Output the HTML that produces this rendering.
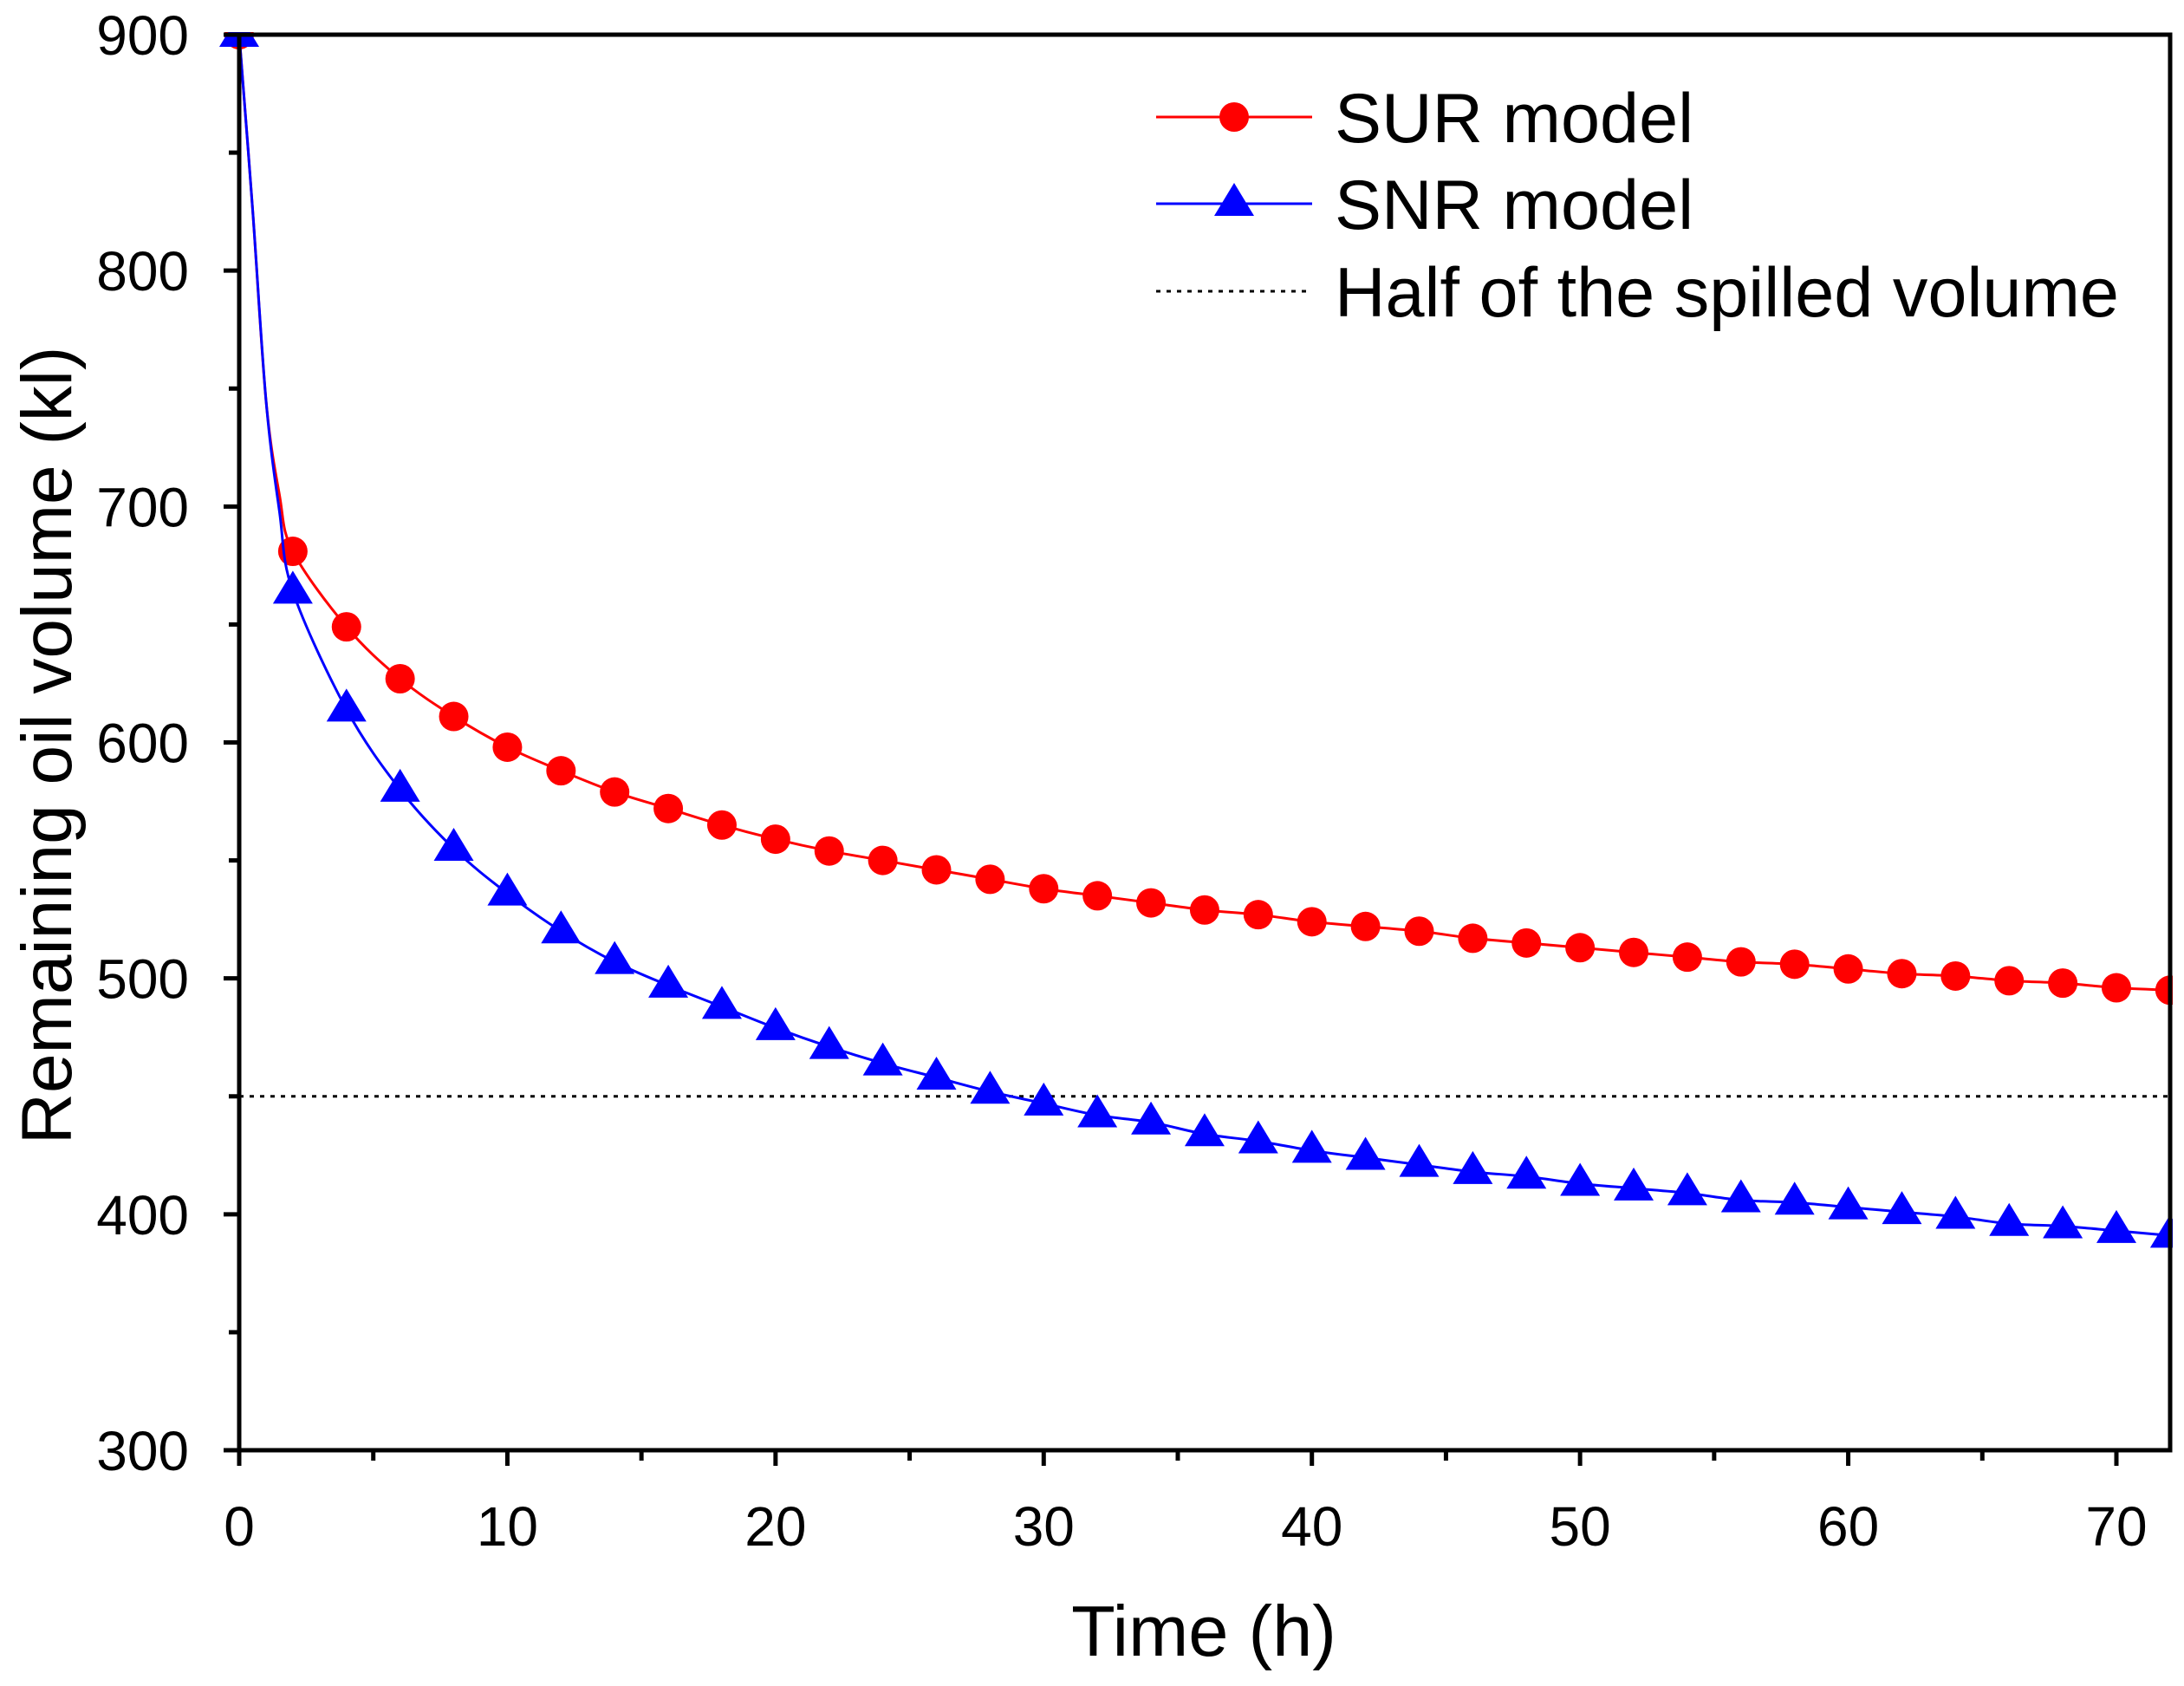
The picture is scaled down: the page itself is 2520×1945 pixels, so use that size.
<!DOCTYPE html>
<html><head><meta charset="utf-8"><style>html,body{margin:0;padding:0;background:#fff}svg{display:block}text{font-family:"Liberation Sans",Arial,sans-serif}</style></head>
<body>
<svg id="chart" width="2520" height="1945" viewBox="0 0 2520 1945" xmlns="http://www.w3.org/2000/svg">
<rect width="2520" height="1945" fill="#fff"/>
<g id="plot"></g>
</svg>
<script>
const times = [0,2,4,6,8,10,12,14,16,18,20,22,24,26,28,30,32,34,36,38,40,42,44,46,48,50,52,54,56,58,60,62,64,66,68,70,72];
const surValues = [900,681,649,627,611,598,588,579,572,565,559,554,550,546,542,538,535,532,529,527,524,522,520,517,515,513,511,509,507,506,504,502,501,499,498,496,495];
const snrValues = [900,664,614,580,555,536,520,507,497,488,479,471,464,458,452,447,442,439,434,431,427,424,421,418,416,413,411,409,406,405,403,401,399,396,395,393,391];
const earlyTimes = [0.5,1,1.5];
const surEarly = [826,745,705];
const snrEarly = [826,745,698];
const halfVolume = [450];
const xTicks = [0,10,20,30,40,50,60,70];
const yTicks = [300,400,500,600,700,800,900];

const X0=276, XS=(2442-276)/70, Y0=1673, YS=1633/600;
const sx = t => X0 + t*XS;
const sy = v => Y0 - (v-300)*YS;
const NS="http://www.w3.org/2000/svg";
const g=document.getElementById('plot');
function mk(tag, attrs, parent){const e=document.createElementNS(NS,tag);for(const k in attrs)e.setAttribute(k,attrs[k]);(parent||g).appendChild(e);return e;}
function smooth(pts){let d=`M${pts[0][0]},${pts[0][1]}`;for(let i=0;i<pts.length-1;i++){const p0=pts[Math.max(0,i-1)],p1=pts[i],p2=pts[i+1],p3=pts[Math.min(pts.length-1,i+2)];const c1=[p1[0]+(p2[0]-p0[0])/6,p1[1]+(p2[1]-p0[1])/6],c2=[p2[0]-(p3[0]-p1[0])/6,p2[1]-(p3[1]-p1[1])/6];d+=` C${c1[0]},${c1[1]} ${c2[0]},${c2[1]} ${p2[0]},${p2[1]}`;}return d;}
function linePts(vals, early){const pts=times.map((t,i)=>[t,vals[i]]);earlyTimes.forEach((t,i)=>pts.push([t,early[i]]));pts.sort((a,b)=>a[0]-b[0]);return pts.map(p=>[sx(p[0]),sy(p[1])]);}

let hl=mk('line',{x1:sx(0),x2:2504,y1:sy(halfVolume[0]),y2:sy(halfVolume[0]),stroke:'#000','stroke-width':3,'stroke-dasharray':'5,7'});



let sl=mk('path',{d:smooth(linePts(surValues,surEarly)),fill:'none',stroke:'#f00','stroke-width':3});


times.forEach((t,i)=>{const c=mk('circle',{cx:sx(t),cy:sy(surValues[i]),r:17,fill:'#f00'});

});
let nl=mk('path',{d:smooth(linePts(snrValues,snrEarly)),fill:'none',stroke:'#00f','stroke-width':3});


times.forEach((t,i)=>{const x=sx(t),y=sy(snrValues[i]);const p=mk('polygon',{points:`${x},${y-24} ${x+23},${y+14} ${x-23},${y+14}`,fill:'#00f'});

});

mk('rect',{x:2507,y:0,width:20,height:1945,fill:'#fff'});
mk('rect',{x:0,y:0,width:2520,height:37,fill:'#fff'});

let fr=mk('rect',{x:276,y:40,width:2228,height:1633,fill:'none',stroke:'#000','stroke-width':5});



yTicks.forEach(v=>{const y=sy(v);mk('line',{x1:258,x2:276,y1:y,y2:y,stroke:'#000','stroke-width':5});
const t=mk('text',{x:218,y:y+23,'text-anchor':'end','font-size':64});t.textContent=v;

});
for(let v=350;v<900;v+=100){const y=sy(v);mk('line',{x1:264,x2:276,y1:y,y2:y,stroke:'#000','stroke-width':5});}
xTicks.forEach(v=>{const x=sx(v);mk('line',{x1:x,x2:x,y1:1673,y2:1691,stroke:'#000','stroke-width':5});
const t=mk('text',{x:x,y:1783,'text-anchor':'middle','font-size':64});t.textContent=v;

});
for(let v=5;v<72;v+=10){const x=sx(v);mk('line',{x1:x,x2:x,y1:1673,y2:1685,stroke:'#000','stroke-width':5});}

let xt=mk('text',{x:1389,y:1910,'text-anchor':'middle','font-size':83});xt.textContent='Time (h)';


let yt=mk('text',{x:0,y:0,'text-anchor':'middle','font-size':82,transform:'translate(82,860) rotate(-90)'});yt.textContent='Remaining oil volume (kl)';



const lg=mk('g',{});


mk('line',{x1:1334,x2:1514,y1:135,y2:135,stroke:'#f00','stroke-width':3},lg);
mk('circle',{cx:1424,cy:135,r:17,fill:'#f00'},lg);
mk('line',{x1:1334,x2:1514,y1:235,y2:235,stroke:'#00f','stroke-width':3},lg);
mk('polygon',{points:'1424,211 1447,249 1401,249',fill:'#00f'},lg);
mk('line',{x1:1334,x2:1514,y1:336,y2:336,stroke:'#000','stroke-width':3,'stroke-dasharray':'5,7'},lg);
[['SUR model',164],['SNR model',264],['Half of the spilled volume',365]].forEach(([s,y])=>{const t=mk('text',{x:1540,y:y,'font-size':81},lg);t.textContent=s;

});
</script>
</body></html>
